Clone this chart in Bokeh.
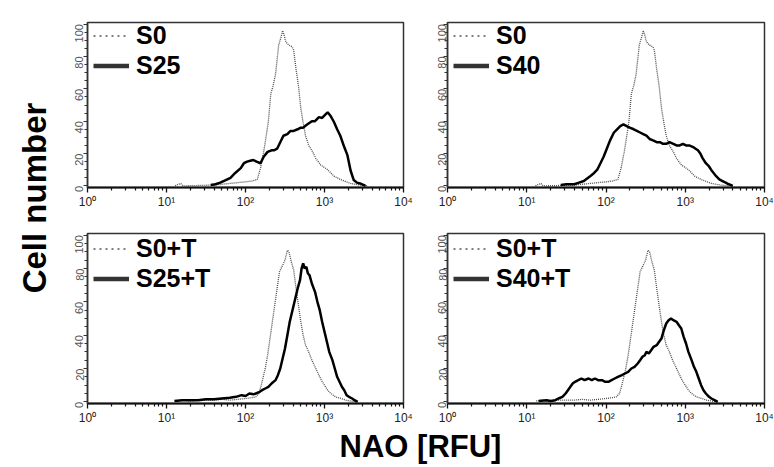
import math
from bokeh.plotting import figure
from bokeh.models import Range1d, FixedTicker, Legend, LegendItem, Label
from bokeh.layouts import row, column
from bokeh.embed import file_html
from bokeh.resources import INLINE

FONT = "Liberation Sans"

# ---------------- data (NAO fluorescence in RFU, cell counts) ----------------
s0_x = [12.9, 14.1, 15.1, 16.2, 39.8, 50.1, 63.1, 79.4, 100, 120.2, 141.3, 154.9, 169.8, 177.8,
        195.0, 208.9, 223.9, 239.9, 263.0, 281.8, 295.1, 309.0, 323.6, 354.8, 389.0, 407.4,
        436.5, 467.7, 501.2, 537.0, 575.4, 631.0, 707.9, 776.2, 891.3, 1096, 1318, 1585, 2138,
        2818, 3548]
s0_y = [0, 1, 1.5, 0, 0.5, 1, 1.5, 2, 2.5, 3, 4, 11, 21, 27, 40, 57, 62, 69, 87, 92, 96, 93, 89,
        87, 86, 84, 72, 62, 48, 39, 31, 25, 21, 17, 13, 10, 6, 4, 1.5, 0.5, 0]

s25_x = [36.3, 41.7, 47.9, 56.2, 64.6, 74.1, 87.1, 95.5, 104.7, 114.8, 125.9, 138.0, 154.9,
         169.8, 190.5, 213.8, 229.1, 251.2, 275.4, 302.0, 338.8, 371.5, 407.4, 457.1, 501.2,
         537.0, 602.6, 691.8, 758.6, 851.1, 933.3, 1023, 1096, 1202, 1318, 1445, 1585, 1778,
         1950, 2138, 2344, 2570, 2818, 3311]
s25_y = [0.5, 1, 2, 3.5, 5, 8, 11, 14, 15, 15.5, 16, 15, 14, 18, 21, 22, 22, 23, 27, 31, 32, 34,
         34, 35, 36, 36, 38, 40, 40, 42.5, 42, 44, 45.5, 43, 39.5, 35, 31, 24, 19, 9.5, 3.6, 2,
         1.5, 0]

s40_x = [26.9, 31.6, 39.8, 45.7, 52.5, 63.1, 70.8, 77.6, 85.1, 93.3, 102.3, 112.2, 125.9, 138.0,
         151.4, 166.0, 182.0, 199.5, 223.9, 245.5, 269.2, 295.1, 323.6, 354.8, 398.1, 436.5,
         478.6, 524.8, 575.4, 631.0, 707.9, 776.2, 851.1, 933.3, 1023, 1122, 1259, 1349, 1445,
         1549, 1660, 1820, 1995, 2188, 2455, 2692, 2951, 3236, 3548, 3981]
s40_y = [0.5, 1, 1, 2, 3, 6, 8, 10, 14, 18, 23, 28, 33, 35, 37, 38, 37, 36, 35, 34, 33, 32, 31,
         29, 28, 27, 27, 26, 26, 27, 26, 25, 25, 26, 25, 25, 24, 23, 22, 20, 17, 14, 12, 9, 6, 4,
         3, 2, 1, 0]

s0t_x = [13.2, 15.8, 20.0, 25.1, 31.6, 39.8, 50.1, 63.1, 79.4, 100, 120.2, 134.9, 147.9, 158.5,
         169.8, 177.8, 190.5, 204.2, 218.8, 234.4, 251.2, 269.2, 295.1, 316.2, 338.8, 354.8,
         380.2, 407.4, 436.5, 467.7, 501.2, 537.0, 575.4, 631.0, 691.8, 758.6, 831.8, 912.0,
         1000, 1096, 1202, 1380, 1622, 1862, 2138, 2512]
s0t_y = [0.5, 1, 0.5, 1, 1, 1, 1.5, 1, 1.5, 2, 2.5, 3, 5, 10, 16, 20, 28, 38, 48, 58, 68, 78, 82,
         85, 91, 90, 84, 79, 68, 58, 48, 40, 34, 30, 25, 21, 17, 13, 10, 7, 5, 3, 2, 1, 0.5, 0]

s25t_x = [12.6, 15.8, 20.0, 25.1, 31.6, 39.8, 50.1, 63.1, 75.9, 89.1, 100, 112.2, 125.9, 134.9,
          151.4, 162.2, 177.8, 195.0, 213.8, 239.9, 257.0, 275.4, 295.1, 316.2, 338.8, 363.1,
          398.1, 426.6, 457.1, 489.8, 512.9, 537.0, 562.3, 588.8, 616.6, 645.7, 691.8, 758.6,
          812.8, 871.0, 933.3, 1000, 1072, 1148, 1259, 1349, 1445, 1549, 1660, 1778, 1905, 2042,
          2239, 2399, 2630]
s25t_y = [0.5, 1, 1, 1, 1.5, 1.5, 2, 2.5, 3, 4, 3.5, 5, 4.5, 5, 6, 7, 8, 9, 11, 13, 16, 20, 26,
          32, 40, 48, 56, 62, 68, 73, 80, 83, 80, 81, 77, 76, 71, 66, 60, 55, 48, 42, 36, 30, 25,
          20, 15, 12, 9, 7, 4, 3, 2, 1, 0]

s40t_x = [14.1, 17.8, 20.0, 22.9, 25.1, 28.2, 30.9, 33.1, 35.5, 38.0, 40.7, 44.7, 49.0, 53.7,
          60.3, 66.1, 72.4, 79.4, 89.1, 97.7, 107.2, 117.5, 128.8, 141.3, 158.5, 173.8, 190.5,
          208.9, 229.1, 251.2, 269.2, 288.4, 309.0, 323.6, 346.7, 371.5, 398.1, 436.5, 467.7,
          501.2, 537.0, 575.4, 616.6, 660.7, 707.9, 776.2, 831.8, 891.3, 955.0, 1023, 1096, 1202,
          1288, 1380, 1479, 1585, 1698, 1820, 1995, 2138, 2344, 2570]
s40t_y = [0.5, 1, 0.5, 1, 2, 3, 5, 7, 9, 11, 12, 13, 14, 13, 14, 13, 14, 13, 13, 12, 12, 13, 14,
          15, 16, 17, 18, 20, 21, 23, 25, 27, 28, 30, 29, 31, 33, 34, 36, 38, 43, 47, 49, 50, 49,
          48, 46, 44, 39, 35, 30, 25, 21, 18, 14, 10, 7, 5, 3, 2, 1, 0]

x_ticks = [1, 10, 100, 1000, 10000]
x_tick_labels = {1: "10\u2070", 10: "10\u00b9", 100: "10\u00b2", 1000: "10\u00b3", 10000: "10\u2074"}
x_minor = [m * d for d in [1, 10, 100, 1000] for m in range(2, 10)]
y_ticks = [0, 20, 40, 60, 80, 100]
y_minor = list(range(0, 101, 5))

panels = [
    (s0_x, s0_y, s25_x, s25_y, ["S0", "S25"]),
    (s0_x, s0_y, s40_x, s40_y, ["S0", "S40"]),
    (s0t_x, s0t_y, s25t_x, s25t_y, ["S0+T", "S25+T"]),
    (s0t_x, s0t_y, s40t_x, s40t_y, ["S0+T", "S40+T"]),
]

NAN = float("nan")


def make_panel(idx):
    dx, dy, sx, sy, labels = panels[idx]
    col = idx % 2
    top_row = idx < 2
    if col == 0:
        width, bl, br, stand = 365, 29, 20, 4
    else:
        width, bl, br, stand = 351, 24, 10, 1
    if top_row:
        height, bt, bb = 211, 22, 22
    else:
        height, bt, bb = 216, 22, 24
    fh = height - bt - bb
    p = figure(width=width, height=height, x_axis_type="log",
               x_range=Range1d(1, 1e4), y_range=Range1d(-1, 101),
               output_backend="svg", toolbar_location=None,
               min_border_left=bl, min_border_right=br,
               min_border_top=bt, min_border_bottom=bb)
    p.xgrid.visible = False
    p.ygrid.visible = False
    p.outline_line_color = "#333333"
    p.outline_line_width = 1.5
    p.background_fill_color = "white"

    p.line(dx, dy, line_color="#4d4d4d", line_width=1.3, line_dash="1 1")
    p.line(sx, sy, line_color="black", line_width=2.5)

    xa = p.xaxis[0]
    xa.ticker = FixedTicker(ticks=x_ticks, minor_ticks=x_minor)
    xa.major_label_overrides = x_tick_labels
    xa.axis_line_color = "#111111"
    xa.axis_line_width = 2
    xa.major_tick_line_color = "#111111"
    xa.minor_tick_line_color = "#111111"
    xa.major_tick_line_width = 1.3
    xa.minor_tick_line_width = 1.2
    xa.major_tick_out = 5
    xa.major_tick_in = 0
    xa.minor_tick_out = 3
    xa.minor_tick_in = 0
    xa.major_label_text_font = FONT
    xa.major_label_text_font_size = "12px"
    xa.major_label_text_color = "#222222"
    xa.major_label_standoff = 2

    ya = p.yaxis[0]
    ya.ticker = FixedTicker(ticks=y_ticks, minor_ticks=y_minor)
    ya.axis_line_color = "#333333"
    ya.axis_line_width = 1.5
    ya.major_tick_line_color = "#333333"
    ya.minor_tick_line_color = "#333333"
    ya.major_tick_out = 4
    ya.major_tick_in = 0
    ya.minor_tick_out = 3
    ya.minor_tick_in = 0
    ya.major_label_orientation = math.pi / 2
    ya.major_label_text_font = FONT
    ya.major_label_text_font_size = "11px"
    ya.major_label_text_color = "#555555"
    ya.major_label_standoff = stand

    # legend glyph samples (no visible data)
    g1 = p.line(x=[NAN], y=[NAN], line_color="#555555", line_width=1.5, line_dash="2 4")
    g2 = p.line(x=[NAN], y=[NAN], line_color="#333333", line_width=4.5)
    if top_row:
        item_h, top_off, fs = 27, 5, "25px"
    else:
        item_h, top_off, fs = 29, 1, "25px"
    leg_h = 2 * item_h + 1
    legend = Legend(items=[LegendItem(label=labels[0], renderers=[g1]),
                           LegendItem(label=labels[1], renderers=[g2])],
                    location=(6, fh - top_off - leg_h), border_line_color=None,
                    background_fill_alpha=0,
                    label_text_font=FONT, label_text_font_style="bold",
                    label_text_font_size=fs, label_text_color="black",
                    glyph_width=36, glyph_height=item_h, label_height=item_h,
                    label_standoff=7, spacing=1, padding=0, margin=0)
    p.add_layout(legend)
    return p


figs = [make_panel(i) for i in range(4)]


def strip(w, h):
    f = figure(width=w, height=h, x_range=Range1d(0, w), y_range=Range1d(0, h),
               x_axis_type=None, y_axis_type=None, output_backend="svg",
               toolbar_location=None, min_border=0, outline_line_color=None)
    f.xgrid.visible = False
    f.ygrid.visible = False
    return f


left = strip(58, 427)
left.add_layout(Label(x=33.5, y=229.5, text="Cell number", angle=math.pi / 2,
                      text_align="center", text_baseline="middle", text_font=FONT,
                      text_font_size="33px", text_font_style="bold", text_color="black"))

bottom = strip(774, 40)
bottom.add_layout(Label(x=420, y=21, text="NAO [RFU]", text_align="center",
                        text_baseline="middle", text_font=FONT,
                        text_font_size="31px", text_font_style="bold", text_color="black"))

layout = column(row(left, column(row(figs[0], figs[1]), row(figs[2], figs[3]))), bottom)

open("out.html", "w").write(file_html(layout, INLINE))
